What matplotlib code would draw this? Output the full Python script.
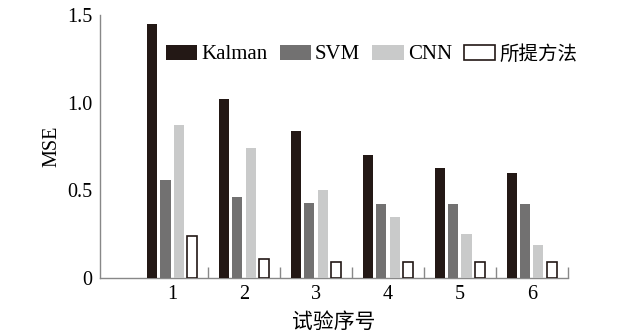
import matplotlib
matplotlib.use("Agg")
import matplotlib.pyplot as plt
import numpy as np

trials = [1, 2, 3, 4, 5, 6]
kalman = [1.45, 1.02, 0.84, 0.70, 0.63, 0.60]
svm = [0.56, 0.46, 0.43, 0.42, 0.42, 0.42]
cnn = [0.87, 0.74, 0.50, 0.35, 0.25, 0.19]
proposed = [0.24, 0.11, 0.09, 0.09, 0.09, 0.09]
labels = ["Kalman", "SVM", "CNN", "所提方法"]
yticks = [0, 0.5, 1.0, 1.5]
yticklabels = ["0", "0.5", "1.0", "1.5"]

fonts = ["Liberation Serif", "Noto Sans CJK SC"]
plt.rcParams["font.family"] = fonts

fig = plt.figure(figsize=(6.42, 3.35), dpi=100)
ax = fig.add_axes([0.1558, 0.1701, 0.7289, 0.7851])

x = np.array(trials, dtype=float)
slot = 0.181
w = 0.139
series = [kalman, svm, cnn, proposed]
faces = ["#231815", "#727171", "#c9caca", "white"]
edges = ["none", "none", "none", "#231815"]
lws = [0, 0, 0, 1.2]
for i, (vals, fc, ec, lw, lab) in enumerate(zip(series, faces, edges, lws, labels)):
    off = (i - 1.5) * slot
    ax.bar(x + off, vals, width=w, color=fc, edgecolor=ec, linewidth=lw,
           label=lab, zorder=3)

ax.set_xlim(0, 6.5)
ax.set_ylim(0, 1.5)
ax.set_xticks(trials)
ax.set_xticklabels([str(t) for t in trials])
ax.set_xticks([t + 0.5 for t in trials], minor=True)
ax.set_yticks(yticks)
ax.set_yticklabels(yticklabels)
ax.set_yticks([1.5], minor=True)
ax.tick_params(axis="both", which="major", length=0, labelsize=14.5)
ax.tick_params(axis="y", which="major", pad=5.5)
ax.tick_params(axis="x", which="major", pad=5)
ax.tick_params(axis="both", which="minor", direction="in", length=8,
               width=1, color="#888888")
for s in ["top", "right"]:
    ax.spines[s].set_visible(False)
for s in ["left", "bottom"]:
    ax.spines[s].set_color("#888888")
    ax.spines[s].set_linewidth(1)

ax.set_ylabel("MSE", fontsize=14.5, labelpad=4)
ax.set_xlabel("试验序号", fontsize=15, labelpad=7)

leg = fig.legend(loc="center", bbox_to_anchor=(0.579, 0.837), ncol=4, frameon=False,
                 fontsize=15, handlelength=1.5, handleheight=0.72,
                 handletextpad=0.2, columnspacing=0.58, borderpad=0)
leg.get_texts()[3].set_fontsize(14)

fig.savefig("out.png", dpi=100)
